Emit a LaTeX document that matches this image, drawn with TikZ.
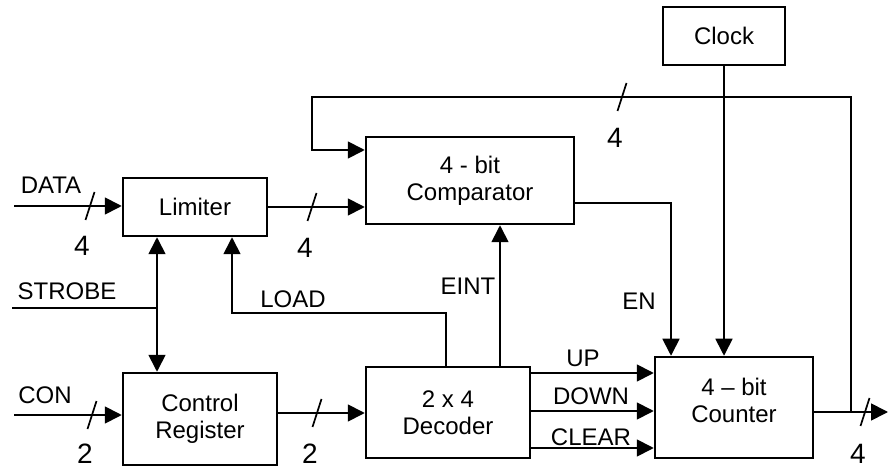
\documentclass[tikz,border=0pt]{standalone}
\usepackage{fontspec}
\setmainfont{Liberation Sans}
\usetikzlibrary{arrows.meta,calc,positioning}
\tikzset{
  block/.style={draw,line width=2.5pt,align=center,inner sep=0pt,font=\fontsize{24}{27}\selectfont},
  wire/.style={line width=1.7pt},
  sig/.style={wire,-{Triangle[length=17pt,width=17pt]}},
  bisig/.style={wire,{Triangle[length=17pt,width=17pt]}-{Triangle[length=17pt,width=17pt]}},
  busmark/.style={line width=1.7pt},
  lbl/.style={inner sep=0pt,font=\fontsize{24}{27}\selectfont},
  buslbl/.style={inner sep=0pt,font=\fontsize{28}{32}\selectfont}
}
\begin{document}
\begin{tikzpicture}[x=1pt,y=-1pt]
  \useasboundingbox (0,0) rectangle (889,470);
  \node[block,minimum width=144pt,minimum height=58pt] (lim) at (195,207) {Limiter};
  \node[block,minimum width=208pt,minimum height=87pt] (cmp) at (470,180.5) {4 - bit\\Comparator};
  \node[block,minimum width=122pt,minimum height=58pt] (clk) at (724,36) {Clock};
  \node[block,minimum width=154pt,minimum height=92pt] (ctl) at (200,419) {Control\\Register};
  \node[block,minimum width=164pt,minimum height=91pt] (dec) at (448,412.5) {2 x 4\\Decoder};
  \node[block,minimum width=158pt,minimum height=101pt,text depth=14pt] (cnt) at (734,407.5) {4 – bit\\Counter};
  \coordinate (datain) at (14,206);
  \coordinate (conin) at (14,415);
  \coordinate (strin) at (12,308);
  \coordinate (strj) at (157,308);
  \coordinate (loadr) at (446,313);
  \coordinate (loadl) at (232,313);
  \coordinate (eint) at (500,300);
  \coordinate (fbj) at (851,412);
  \coordinate (fbtop) at (851,97);
  \coordinate (fbleft) at (312,97);
  \coordinate (fbin) at (312,150);
  \coordinate (out) at (888,412);
  \draw[sig] (datain) -- (datain -| lim.west);
  \draw[sig] (lim.east) -- (lim.east -| cmp.west);
  \draw[wire] (strin) -- (strj);
  \draw[bisig] (lim.south -| strj) -- (ctl.north -| strj);
  \draw[sig] (dec.north -| loadr) -- (loadr) -- (loadl) -- (lim.south -| loadl);
  \draw[sig] (dec.north -| eint) -- (cmp.south -| eint);
  \draw[sig] (cmp.east |- 0,203) -| (cnt.north -| 671,0);
  \draw[sig] (clk.south) -- (cnt.north -| clk.south);
  \draw[sig] (fbj) -- (fbtop) -- (fbleft) -- (fbin) -- (fbin -| cmp.west);
  \draw[sig] (cnt.east |- out) -- (out);
  \draw[sig] (dec.east |- 0,373) -- (cnt.west |- 0,373);
  \draw[sig] (dec.east |- 0,411) -- (cnt.west |- 0,411);
  \draw[sig] (dec.east |- 0,448) -- (cnt.west |- 0,448);
  \draw[sig] (conin) -- (conin -| ctl.west);
  \draw[sig] (ctl.east |- 0,413) -- (dec.west |- 0,413);
  \foreach \x/\y in {90/206, 312/207, 622/97, 92/415, 317/413, 865/412}
    \draw[busmark] (\x+4.5,\y-14) -- (\x-4.5,\y+14);
  \node[lbl] (datalbl) at (51,185) {DATA};
  \node[lbl] (strlbl) at (67,291) {STROBE};
  \node[lbl] (loadlbl) at (293,299) {LOAD};
  \node[lbl] (eintlbl) at (468,286) {EINT};
  \node[lbl] (enlbl) at (639,301) {EN};
  \node[lbl] (uplbl) at (583,358) {UP};
  \node[lbl] (downlbl) at (591,396) {DOWN};
  \node[lbl] (clrlbl) at (591,437) {CLEAR};
  \node[lbl] (conlbl) at (45,395) {CON};
  \node[buslbl] (dataw) at (82,246) {4};
  \node[buslbl] (limw) at (305,248) {4};
  \node[buslbl] (fbw) at (615,138) {4};
  \node[buslbl] (conw) at (85,454) {2};
  \node[buslbl] (ctlw) at (310,454) {2};
  \node[buslbl] (outw) at (858,454) {4};
\end{tikzpicture}
\end{document}
